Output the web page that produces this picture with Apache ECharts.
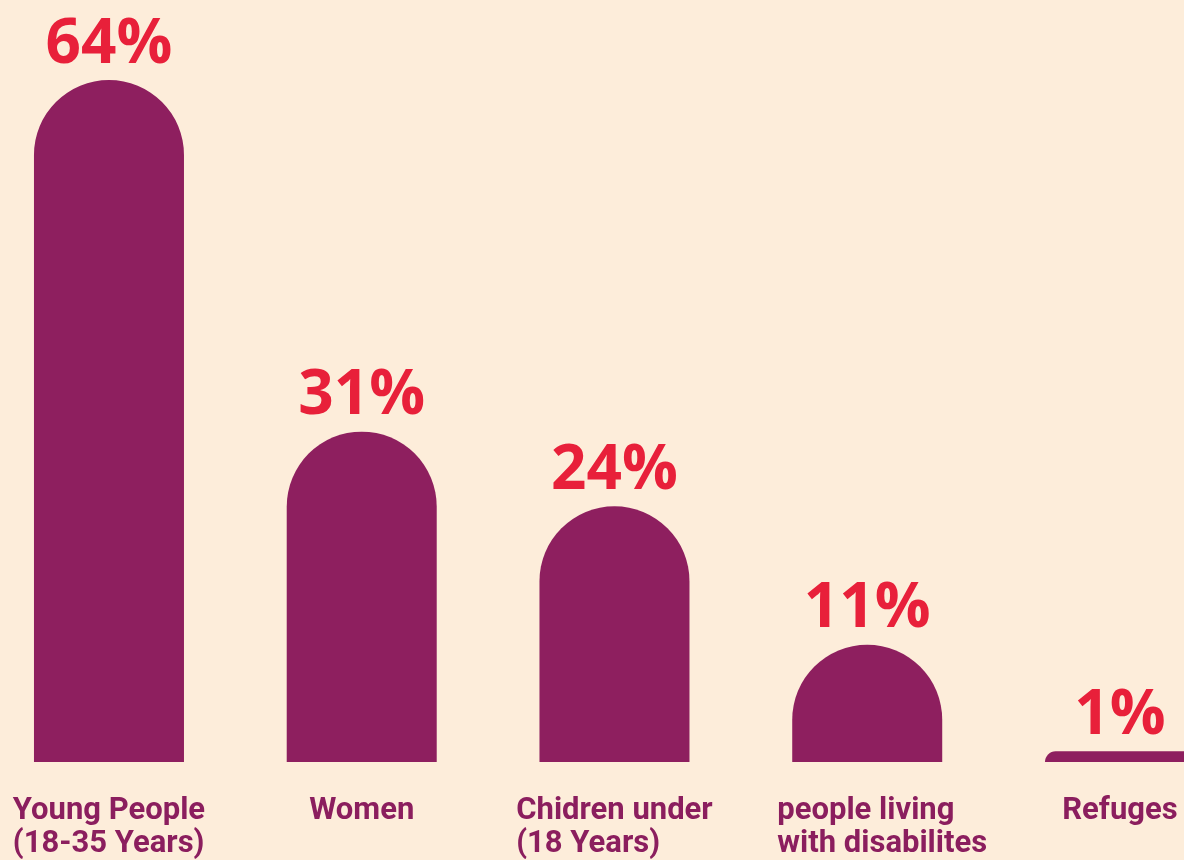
<!DOCTYPE html>
<html>
<head>
<meta charset="utf-8">
<script src="https://cdn.jsdelivr.net/npm/echarts@6/dist/echarts.min.js"></script>
<style>
  html, body { margin: 0; padding: 0; background: #FDEDDA; }
  #chart { width: 1184px; height: 860px; }
</style>
</head>
<body>
<div id="chart"></div>
<script>
// Share of each group, in percent
const categories = [
  'Young People\n(18-35 Years)',
  'Women',
  'Chidren under\n(18 Years)',
  'people living\nwith disabilites',
  'Refuges'
];
const values = [64, 31, 24, 11, 1];

const BAR = '#8E1F5F';
const RED = '#E8203A';

const chart = echarts.init(document.getElementById('chart'), null, { renderer: 'canvas' });

// each line of a label gets its own token so lines stay left-aligned inside a centred block
function catLabel(text, idx) {
  const style = idx === 3 ? 'l2' : 'l';
  return text.split('\n').map(s => '{' + style + '|' + s + '}').join('\n');
}

const labelBase = {
  align: 'left',
  fontFamily: 'Roboto',
  fontWeight: 'bold',
  fontSize: 31,
  lineHeight: 33,
  color: '#8B1E5E'
};

chart.setOption({
  backgroundColor: '#FDEDDA',
  animation: false,
  grid: {
    left: -17.4,
    width: 1263.75,
    top: 80,
    bottom: 98,
    containLabel: false,
    outerBoundsMode: 'none'
  },
  xAxis: {
    type: 'category',
    data: categories,
    axisLine: { show: false },
    axisTick: { show: false },
    axisLabel: {
      interval: 0,
      margin: 33,
      formatter: catLabel,
      rich: {
        l: labelBase,
        l2: Object.assign({}, labelBase, { padding: [0, 0, 0, 30] })
      }
    }
  },
  yAxis: {
    type: 'value',
    min: 0,
    max: 64,
    show: false,
    splitLine: { show: false }
  },
  series: [{
    type: 'bar',
    data: values,
    barWidth: 150,
    itemStyle: { color: BAR, borderRadius: [75, 75, 0, 0] },
    label: {
      show: true,
      position: 'top',
      distance: 4,
      formatter: '{c}%',
      fontFamily: '"Open Sans"',
      fontWeight: 'bold',
      fontSize: 62,
      color: RED
    }
  }]
});
</script>
</body>
</html>
